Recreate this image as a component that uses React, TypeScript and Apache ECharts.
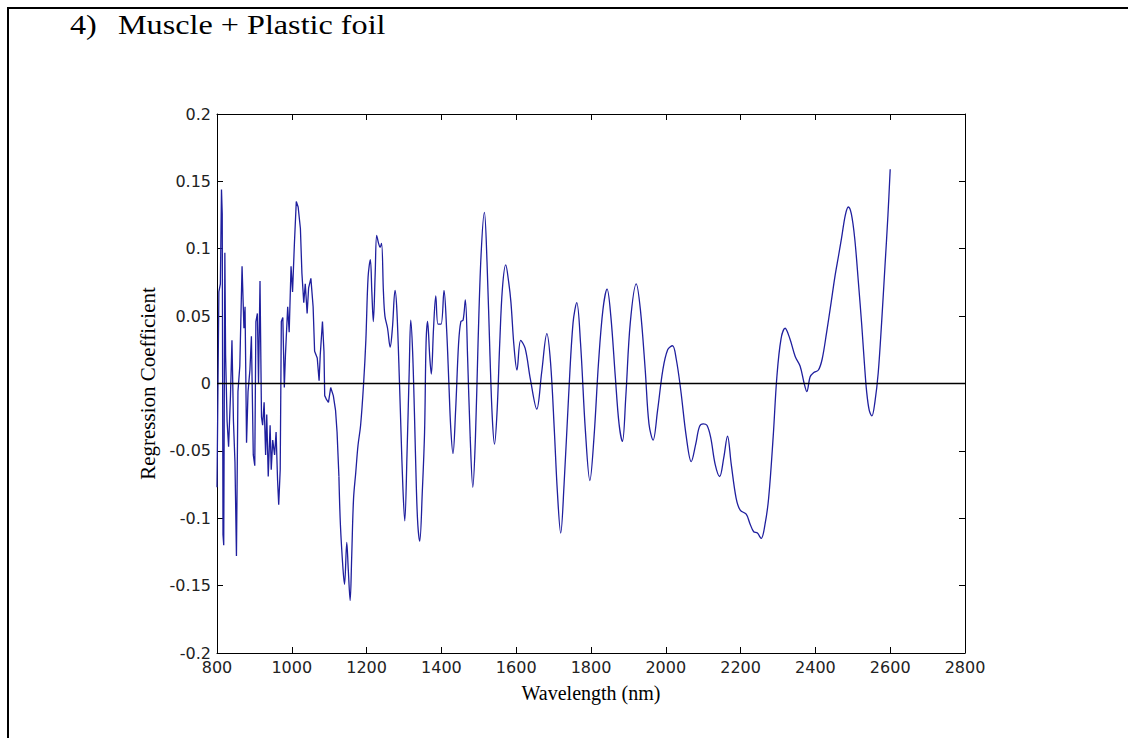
import React, { useEffect, useRef } from "react";
import * as echarts from "echarts";

// Noisy short-wavelength part (nm, coefficient)
const noisyWavelengths = [
  800, 803, 805, 809, 812, 814, 816, 818, 821, 823, 827, 831, 836, 840, 844, 848, 852, 856, 861, 867, 870,
  872, 875, 879, 883, 888, 892, 897, 901, 904, 908, 911, 915, 919, 922, 926, 930, 933, 937, 942, 945, 949,
  954, 958, 962, 965, 969, 972, 976, 980, 983, 989, 993, 998, 1002, 1007, 1012, 1017, 1023, 1027, 1032,
  1036, 1041, 1045, 1051, 1057, 1061, 1068, 1073, 1076, 1082, 1086, 1088, 1093, 1098, 1104, 1111, 1117,
  1121, 1126,
];
const noisyValues = [
  -0.077, 0.01, 0.068, 0.074, 0.144, 0.126, -0.112, -0.12, 0.097, 0.021, -0.028, -0.047, -0.009, 0.032,
  -0.028, -0.058, -0.128, -0.006, 0.013, 0.087, 0.06, 0.041, 0.057, -0.044, -0.006, 0.01, 0.035, -0.053,
  -0.061, 0.046, 0.052, 0.0, 0.076, -0.025, -0.031, -0.014, -0.053, -0.023, -0.069, -0.031, -0.064, -0.042,
  -0.053, -0.036, -0.072, -0.09, -0.064, 0.046, 0.049, -0.003, 0.021, 0.057, 0.038, 0.087, 0.068, 0.104,
  0.135, 0.131, 0.115, 0.082, 0.06, 0.074, 0.052, 0.071, 0.078, 0.057, 0.024, 0.019, 0.002, 0.021, 0.046,
  0.024, -0.009, -0.012, -0.014, -0.003, -0.009, -0.02, -0.036, -0.069,
];

// Smoother long-wavelength part
const smoothWavelengths = [
  1126, 1130, 1137, 1141, 1147, 1151, 1156, 1160, 1165, 1171, 1177, 1184, 1192, 1198, 1204, 1210, 1214,
  1218, 1223, 1227, 1232, 1236, 1240, 1245, 1249, 1256, 1263, 1269, 1276, 1281, 1288, 1292, 1297, 1302,
  1308, 1314, 1318, 1323, 1328, 1333, 1337, 1342, 1349, 1355, 1359, 1363, 1369, 1373, 1379, 1385, 1391,
  1399, 1407, 1414, 1420, 1425, 1431, 1438, 1446, 1452, 1458, 1464, 1470, 1477, 1484, 1491, 1498, 1506,
  1515, 1522, 1530, 1536, 1542, 1549, 1556, 1563, 1572, 1580, 1586, 1594, 1602, 1612, 1624, 1638, 1655,
  1668, 1682, 1692, 1702, 1710, 1719, 1728, 1740, 1752, 1762, 1772, 1785, 1797, 1808, 1820, 1832, 1843,
  1853, 1865, 1875, 1884, 1893, 1905, 1921, 1932, 1945, 1955, 1966, 1978, 1992, 2005, 2018, 2028, 2040,
  2055, 2068, 2080, 2090, 2100, 2110, 2120, 2132, 2144, 2155, 2165, 2175, 2188, 2199, 2215, 2225, 2235,
  2245, 2255, 2265, 2275, 2287, 2297, 2308, 2319, 2332, 2346, 2359, 2370, 2377, 2386, 2395, 2408, 2418,
  2430, 2442, 2452, 2462, 2470, 2480, 2488, 2496, 2505, 2515, 2524, 2531, 2537, 2544, 2551, 2559, 2568,
  2577, 2586, 2594, 2600,
];
const smoothValues = [
  -0.069, -0.105, -0.138, -0.149, -0.118, -0.138, -0.161, -0.13, -0.086, -0.066, -0.046, -0.031, 0.0,
  0.032, 0.079, 0.092, 0.068, 0.046, 0.082, 0.11, 0.104, 0.101, 0.104, 0.068, 0.05, 0.041, 0.027, 0.041,
  0.069, 0.054, 0.0, -0.036, -0.077, -0.102, -0.053, 0.01, 0.047, 0.024, -0.023, -0.077, -0.105, -0.117,
  -0.08, -0.036, 0.03, 0.046, 0.019, 0.007, 0.041, 0.065, 0.044, 0.044, 0.069, 0.04, 0.0, -0.033, -0.052,
  -0.02, 0.03, 0.046, 0.047, 0.062, 0.02, -0.04, -0.077, -0.04, 0.03, 0.095, 0.127, 0.09, 0.02, -0.025,
  -0.045, -0.02, 0.03, 0.07, 0.088, 0.075, 0.06, 0.028, 0.01, 0.032, 0.026, 0.003, -0.019, 0.008, 0.037,
  0.015, -0.035, -0.08, -0.111, -0.075, -0.01, 0.045, 0.06, 0.03, -0.035, -0.072, -0.04, 0.015, 0.055,
  0.07, 0.05, 0.005, -0.03, -0.043, -0.01, 0.045, 0.074, 0.055, 0.01, -0.03, -0.042, -0.02, 0.01, 0.025,
  0.028, 0.018, -0.005, -0.04, -0.058, -0.045, -0.032, -0.03, -0.031, -0.04, -0.06, -0.069, -0.055,
  -0.039, -0.06, -0.085, -0.094, -0.097, -0.104, -0.11, -0.111, -0.115, -0.105, -0.085, -0.04, 0.005,
  0.033, 0.041, 0.033, 0.02, 0.013, 0.0, -0.006, 0.005, 0.008, 0.01, 0.018, 0.038, 0.06, 0.079, 0.095,
  0.108, 0.125, 0.131, 0.126, 0.108, 0.075, 0.043, 0.015, -0.006, -0.02, -0.024, -0.014, 0.008, 0.045,
  0.087, 0.125, 0.159,
];

const xTicks = { min: 800, max: 2800, step: 200 };
const yTicks = { min: -0.2, max: 0.2, step: 0.05 };

const title = "Muscle + Plastic foil";
const titleNumber = "4)";
const xName = "Wavelength (nm)";
const yName = "Regression Coefficient";

export default function App() {
  const ref = useRef<HTMLDivElement>(null);

  useEffect(() => {
    if (!ref.current) return;
    const chart = echarts.init(ref.current, undefined, { renderer: "svg" });

    const tickFont = { fontFamily: "DejaVu Sans", fontSize: 16, color: "#222" };
    const lineCol = "#000";

    const baseX = {
      type: "value" as const,
      min: xTicks.min,
      max: xTicks.max,
      interval: xTicks.step,
      splitLine: { show: false },
      axisLine: { onZero: false, lineStyle: { color: lineCol, width: 1 } },
      axisTick: { inside: true, length: 6, lineStyle: { color: lineCol } },
    };
    const baseY = {
      type: "value" as const,
      min: yTicks.min,
      max: yTicks.max,
      interval: yTicks.step,
      splitLine: { show: false },
      axisLine: { onZero: false, lineStyle: { color: lineCol, width: 1 } },
      axisTick: { inside: true, length: 6, lineStyle: { color: lineCol } },
    };

    const fmt = (v: number) => String(Math.round(v * 1000) / 1000);

    const option = {
      animation: false,
      backgroundColor: "#ffffff",
      grid: { left: 217, top: 114, width: 748, height: 539 },
      xAxis: [
        {
          ...baseX,
          position: "bottom",
          axisLabel: { ...tickFont, margin: 6, showMinLabel: true, showMaxLabel: true, formatter: fmt },
          name: xName,
          nameLocation: "middle",
          nameGap: 30,
          nameTextStyle: { fontFamily: "Liberation Serif", fontSize: 20, color: "#000" },
        },
        { ...baseX, position: "top", axisLabel: { show: false } },
      ],
      yAxis: [
        {
          ...baseY,
          position: "left",
          axisLabel: { ...tickFont, margin: 6, showMinLabel: true, showMaxLabel: true, formatter: fmt },
          name: yName,
          nameLocation: "middle",
          nameGap: 58,
          nameRotate: 90,
          nameTextStyle: { fontFamily: "Liberation Serif", fontSize: 21, color: "#000" },
        },
        { ...baseY, position: "right", axisLabel: { show: false } },
      ],
      graphic: [
        { type: "line", shape: { x1: 8, y1: 7, x2: 8, y2: 738 }, style: { stroke: "#000", lineWidth: 2 } },
        { type: "line", shape: { x1: 7, y1: 8, x2: 1128, y2: 8 }, style: { stroke: "#000", lineWidth: 2 } },
        {
          type: "text",
          x: 70,
          y: 25,
          scaleX: 1.15,
          style: {
            text: titleNumber,
            fontFamily: "Liberation Serif",
            fontSize: 28,
            fill: "#000",
            verticalAlign: "middle",
          },
        },
        {
          type: "text",
          x: 118,
          y: 25,
          scaleX: 1.15,
          style: {
            text: title,
            fontFamily: "Liberation Serif",
            fontSize: 28,
            fill: "#000",
            verticalAlign: "middle",
          },
        },
      ],
      series: [
        {
          type: "line",
          xAxisIndex: 0,
          yAxisIndex: 0,
          data: noisyWavelengths.map((w, i) => [w, noisyValues[i]]),
          showSymbol: false,
          lineStyle: { color: "#1f1f9e", width: 1.3 },
          markLine: {
            silent: true,
            symbol: "none",
            label: { show: false },
            lineStyle: { color: "#000", width: 1.3, type: "solid" },
            data: [{ yAxis: 0 }],
          },
        },
        {
          type: "line",
          xAxisIndex: 0,
          yAxisIndex: 0,
          data: smoothWavelengths.map((w, i) => [w, smoothValues[i]]),
          showSymbol: false,
          smooth: 0.35,
          lineStyle: { color: "#1f1f9e", width: 1.3 },
        },
      ],
    };

    chart.setOption(option as any);
    return () => chart.dispose();
  }, []);

  return (
    <div
      ref={ref}
      style={{ position: "fixed", left: 0, top: 0, width: 1128, height: 738, background: "#fff" }}
    />
  );
}
